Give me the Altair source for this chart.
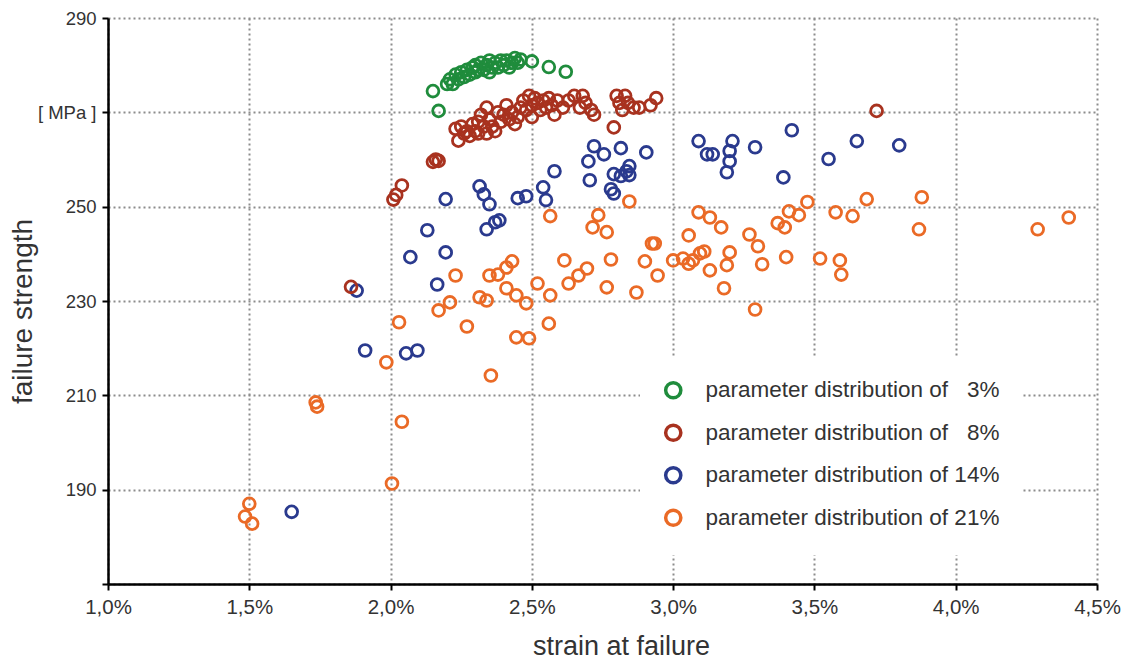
import altair as alt
import pandas as pd

# ---- data (strain at failure in %, failure strength in MPa) ----
series_labels = [
    "parameter distribution of \u00a0\u00a03%",
    "parameter distribution of \u00a0\u00a08%",
    "parameter distribution of 14%",
    "parameter distribution of 21%",
]
series_colors = ["#1f8c3c", "#a8321f", "#2a3a8e", "#ea6a26"]

green_x = [2.15, 2.17, 2.20, 2.21, 2.22, 2.23, 2.24, 2.25, 2.26, 2.27, 2.28, 2.29, 2.30, 2.30,
           2.31, 2.32, 2.33, 2.34, 2.35, 2.35, 2.36, 2.37, 2.38, 2.39, 2.40, 2.41, 2.42, 2.43,
           2.44, 2.45, 2.46, 2.50, 2.56, 2.62]
green_y = [274.5, 270.3, 276.0, 277.0, 276.0, 278.0, 277.0, 278.5, 277.5, 279.0, 278.0, 279.5, 278.5, 280.0,
           279.0, 280.5, 279.0, 280.0, 278.5, 281.0, 279.5, 280.5, 279.5, 281.0, 280.0, 281.0, 279.5, 280.5,
           281.5, 280.5, 281.2, 280.8, 279.6, 278.6]

red_x = [2.23, 2.24, 2.25, 2.26, 2.27, 2.28, 2.29, 2.30, 2.31, 2.31, 2.32, 2.33, 2.34, 2.34, 2.35, 2.36,
         2.37, 2.38, 2.39, 2.40, 2.41, 2.42, 2.43, 2.44, 2.45, 2.46, 2.47, 2.48, 2.49, 2.50, 2.50, 2.51,
         2.52, 2.53, 2.54, 2.55, 2.56, 2.57, 2.58, 2.59, 2.61, 2.63, 2.65, 2.67, 2.68, 2.69, 2.71, 2.72,
         2.79, 2.80, 2.81, 2.82, 2.83, 2.84, 2.86, 2.88, 2.92, 2.94, 3.72, 1.86, 2.01, 2.02, 2.04, 2.15,
         2.16, 2.17]
red_y = [266.5, 264.0, 267.0, 265.5, 266.0, 265.0, 267.5, 266.0, 268.0, 265.5, 269.5, 267.0, 265.5, 271.0,
         268.5, 267.0, 266.0, 270.0, 268.0, 269.5, 271.5, 268.5, 270.0, 267.5, 269.0, 271.0, 272.5, 270.5,
         273.5, 271.5, 269.0, 273.0, 272.0, 270.5, 272.5, 271.0, 273.0, 271.5, 269.5, 272.5, 271.0, 272.5,
         273.5, 271.0, 273.5, 272.0, 270.5, 269.5, 266.8, 273.5, 272.0, 270.5, 273.5, 272.0, 271.0, 271.0,
         271.5, 273.0, 270.3, 233.0, 251.5, 252.5, 254.5, 259.5, 260.0, 259.7]

blue_x = [1.65, 1.88, 1.91, 2.055, 2.095, 2.07, 2.13, 2.165, 2.195, 2.195, 2.315, 2.33, 2.35, 2.34,
          2.37, 2.385, 2.45, 2.48, 2.54, 2.55, 2.58, 2.72, 2.755, 2.815, 2.70, 2.705, 2.78, 2.79, 2.79,
          2.815, 2.835, 2.845, 2.845, 2.905, 3.09, 3.12, 3.14, 3.21, 3.20, 3.20, 3.19, 3.29, 3.39, 3.42,
          3.55, 3.65, 3.80]
blue_y = [185.3, 232.2, 219.5, 218.9, 219.5, 239.3, 245.0, 233.5, 240.3, 251.6, 254.3, 252.6, 250.5, 245.2,
          246.7, 247.1, 251.8, 252.2, 254.1, 251.4, 257.5, 262.8, 261.1, 262.4, 259.6, 255.6, 253.7, 252.8, 256.9,
          256.5, 257.5, 258.6, 256.7, 261.5, 263.9, 261.1, 261.1, 263.9, 261.8, 259.6, 257.3, 262.6, 256.2, 266.2,
          260.1, 263.9, 263.0]

orange_x = [1.50, 1.485, 1.51, 1.735, 1.74, 2.005, 2.04, 1.985, 2.03,
            2.565, 2.735, 2.715, 2.765, 2.845, 2.615, 2.78, 2.90, 2.925, 2.935, 3.00, 3.035, 3.055, 3.07,
            3.09, 3.055, 2.945, 2.87, 2.765, 2.63, 2.665, 2.695, 2.52, 2.565, 2.56, 2.445, 2.49, 2.27, 2.17,
            2.21, 2.23, 2.315, 2.34, 2.35, 2.38, 2.41, 2.43, 2.41, 2.445, 2.48, 2.355,
            3.13, 3.17, 3.095, 3.11, 3.13, 3.19, 3.20, 3.18, 3.27, 3.30, 3.315, 3.29, 3.37, 3.395, 3.41,
            3.445, 3.475, 3.40, 3.52, 3.59, 3.595, 3.575, 3.635, 3.685, 3.88, 3.87, 4.29, 4.40]
orange_y = [187.0, 184.3, 182.8, 208.5, 207.6, 191.3, 204.4, 217.0, 225.5,
            248.0, 248.2, 245.6, 244.6, 251.1, 238.6, 238.8, 238.4, 242.2, 242.2, 238.6, 239.0, 237.9, 238.6,
            248.8, 243.9, 235.4, 231.8, 232.9, 233.7, 235.4, 236.9, 233.7, 231.2, 225.2, 222.3, 222.1, 224.6, 228.0,
            229.7, 235.4, 230.8, 230.1, 235.4, 235.6, 237.1, 238.4, 232.7, 231.2, 229.5, 214.2,
            247.7, 245.6, 240.1, 240.5, 236.5, 237.6, 240.3, 232.7, 244.1, 241.6, 237.8, 228.2, 246.5, 245.6, 249.0,
            248.2, 251.0, 239.3, 239.0, 238.6, 235.6, 248.8, 248.0, 251.6, 252.0, 245.2, 245.2, 247.7]

x_ticks = [1.0, 1.5, 2.0, 2.5, 3.0, 3.5, 4.0, 4.5]
y_ticks = [170, 190, 210, 230, 250, 270, 290]

# ---- table (orange drawn first, green last) ----
rows = []
for xs, ys, lab in [(orange_x, orange_y, series_labels[3]),
                    (blue_x, blue_y, series_labels[2]),
                    (red_x, red_y, series_labels[1]),
                    (green_x, green_y, series_labels[0])]:
    for a, b in zip(xs, ys):
        rows.append({"strain": a, "strength": b, "series": lab})
df = pd.DataFrame(rows)

text_color = "#333333"
font = "Liberation Sans"

axis_style = dict(grid=True, gridColor="#8c8c8c", gridDash=[2, 3], gridWidth=2,
                  domainColor="black", domainWidth=2.5, tickColor="black", tickSize=6, tickWidth=2,
                  labelColor=text_color, titleColor=text_color, labelFont=font, titleFont=font,
                  titleFontWeight="normal", labelFlush=False)

chart = alt.Chart(df).mark_point(
    shape="circle", filled=False, size=140, strokeWidth=2.8, opacity=1
).encode(
    x=alt.X("strain:Q",
            scale=alt.Scale(domain=[1.0, 4.5], nice=False, zero=False),
            axis=alt.Axis(values=x_ticks,
                          labelExpr="replace(format(datum.value, '.1f'), '.', ',') + '%'",
                          title="strain at failure", titlePadding=16, titleFontSize=27,
                          titleX=513,
                          labelPadding=7, labelFontSize=20.5, **axis_style)),
    y=alt.Y("strength:Q",
            scale=alt.Scale(domain=[170, 290], nice=False, zero=False),
            axis=alt.Axis(values=y_ticks,
                          labelExpr="datum.value == 270 ? '[ MPa ]' : (datum.value == 170 ? '' : datum.label)",
                          title="failure strength", titleFontSize=28,
                          titleX=-71, titleY=293,
                          labelPadding=6, labelFontSize=18.5, **axis_style)),
    color=alt.Color("series:N",
                    scale=alt.Scale(domain=series_labels, range=series_colors),
                    legend=alt.Legend(title=None, orient="none", legendX=532, legendY=339,
                                      fillColor="white", padding=22, symbolType="circle",
                                      symbolSize=230, symbolStrokeWidth=3.5,
                                      labelFontSize=22.5, labelOffset=21, rowPadding=12.5,
                                      labelLimit=500, labelColor=text_color, labelFont=font)),
).properties(
    width=989, height=566,
    background="white",
    autosize=alt.AutoSizeParams(type="none"),
    padding={"left": 100, "top": 10, "right": 31, "bottom": 79},
).configure_view(
    strokeWidth=0
)

chart.save("out.html", embed_options={"renderer": "svg", "actions": False})
